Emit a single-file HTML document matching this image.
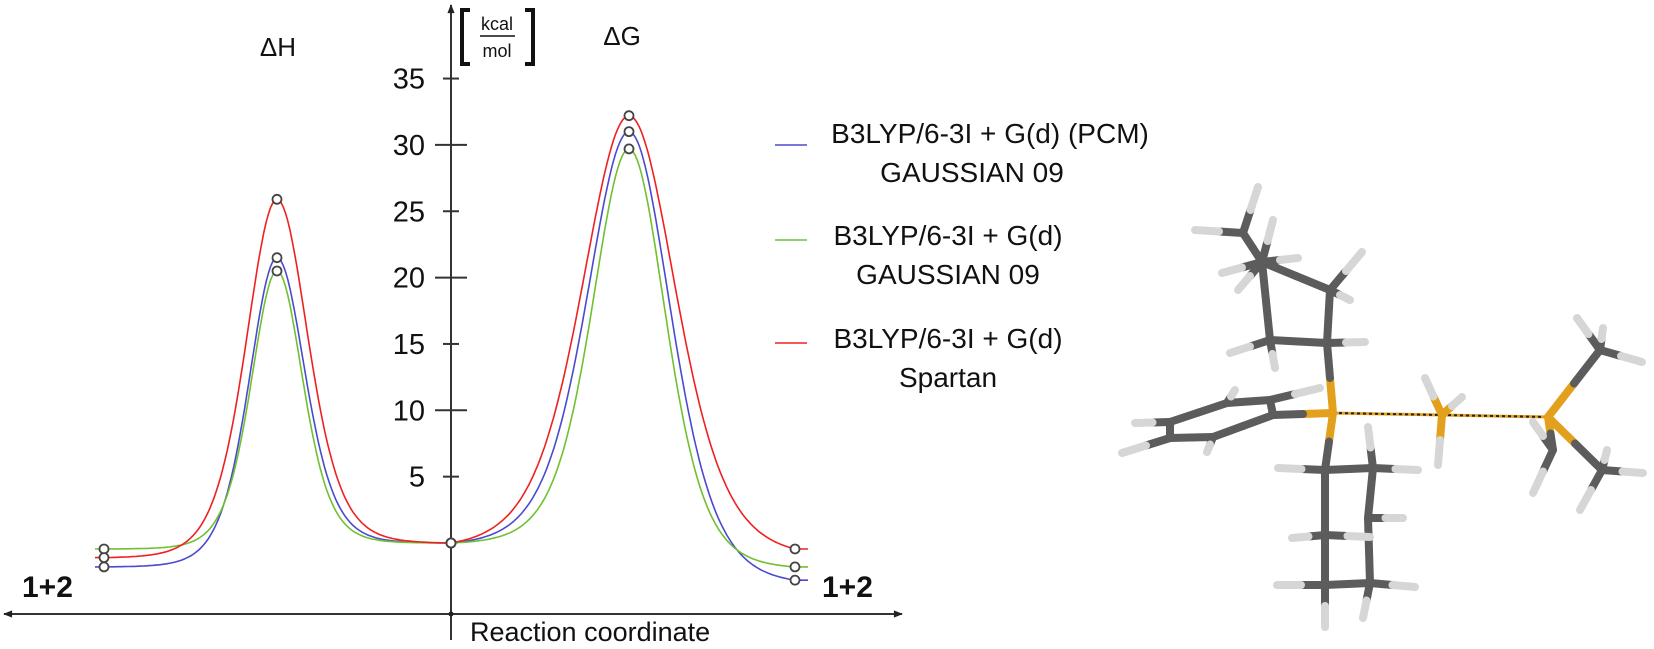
<!DOCTYPE html>
<html><head><meta charset="utf-8"><style>
html,body{margin:0;padding:0;background:#fff;}
svg{display:block;font-family:"Liberation Sans",Arial,sans-serif;}
</style></head><body>
<svg id="chart" width="1654" height="649" viewBox="0 0 1654 649" xmlns="http://www.w3.org/2000/svg">
<defs>
<marker id="arr" viewBox="0 0 10 10" refX="9" refY="5" markerWidth="14" markerHeight="9" orient="auto" markerUnits="userSpaceOnUse"><path d="M0,1 L10,5 L0,9 z" fill="#222"/></marker>
</defs>
<g id="axes">
<line x1="451" y1="614" x2="4" y2="614" stroke="#333" stroke-width="2" marker-end="url(#arr)"/>
<line x1="451" y1="614" x2="902" y2="614" stroke="#333" stroke-width="2" marker-end="url(#arr)"/>
<line x1="451" y1="640" x2="451" y2="5" stroke="#333" stroke-width="2" marker-end="url(#arr)"/>
<circle cx="451" cy="614" r="2.5" fill="#222"/>
<text x="470" y="641" font-size="27" fill="#111">Reaction coordinate</text>
<text x="22" y="597" font-size="30" font-weight="bold" fill="#111">1+2</text>
<text x="822" y="597" font-size="30" font-weight="bold" fill="#111">1+2</text>
<text x="278" y="56" font-size="26" text-anchor="middle" fill="#111">ΔH</text>
<text x="622" y="45" font-size="26" text-anchor="middle" fill="#111">ΔG</text>
<g>
<path d="M470,10 L462,10 L462,64 L470,64" fill="none" stroke="#111" stroke-width="4"/>
<path d="M525,10 L533,10 L533,64 L525,64" fill="none" stroke="#111" stroke-width="4"/>
<text x="497" y="30" font-size="18" text-anchor="middle" fill="#111">kcal</text>
<line x1="480" y1="36" x2="515" y2="36" stroke="#111" stroke-width="1.5"/>
<text x="497" y="57" font-size="18" text-anchor="middle" fill="#111">mol</text>
</g>
<g id="ticks"></g>
</g>
<g id="series"></g>
<g id="legend">
<line x1="775" y1="145" x2="807" y2="145" stroke="#4a4ad0" stroke-width="1.5"/>
<text font-size="28" fill="#111" text-anchor="middle"><tspan x="990" y="143">B3LYP/6-3I + G(d) (PCM)</tspan><tspan x="972" y="182">GAUSSIAN 09</tspan></text>
<line x1="775" y1="240" x2="807" y2="240" stroke="#70c030" stroke-width="1.5"/>
<text font-size="28" fill="#111" text-anchor="middle"><tspan x="948" y="245">B3LYP/6-3I + G(d)</tspan><tspan x="948" y="284">GAUSSIAN 09</tspan></text>
<line x1="775" y1="343" x2="807" y2="343" stroke="#f02020" stroke-width="1.5"/>
<text font-size="28" fill="#111" text-anchor="middle"><tspan x="948" y="348">B3LYP/6-3I + G(d)</tspan><tspan x="948" y="387">Spartan</tspan></text>
</g>
<g id="molecule"></g>
</svg>
<script>
// ---- chart data ----
const stages = [0, 1, 2, 3, 4]; // reactants, TS(ΔH), complex, TS(ΔG), reactants
const tickValues = [5, 10, 15, 20, 25, 30, 35];
const tickLabels = ["5", "10", "15", "20", "25", "30", "35"];
const seriesNames = ["pcm", "gaussian", "spartan"];
const pcmValues = [-1.8, 21.5, 0, 31.0, -2.8];
const gaussianValues = [-0.45, 20.5, 0, 29.7, -1.8];
const spartanValues = [-1.1, 25.9, 0, 32.2, -0.45];
const seriesColors = ["#4a4ad0", "#70c030", "#f02020"];
// peak widths (px) for ΔH and ΔG peaks per series
const widthH = [38, 35, 42];
const widthG = [57, 50, 64];

const NS = "http://www.w3.org/2000/svg";
const stagePx = [104, 277, 451, 629, 795];
function xScale(s){
  const i = Math.min(3, Math.max(0, Math.floor(s)));
  return stagePx[i] + (stagePx[i+1]-stagePx[i])*(s-i);
}
function yScale(v){ return 543 - v*13.27; }

const ticks = document.getElementById('ticks');
tickValues.forEach((v,i)=>{
  const major = v % 10 === 0;
  const l = document.createElementNS(NS,'line');
  
  
  l.setAttribute('x1', major?435:443); l.setAttribute('x2', major?467:459);
  l.setAttribute('y1', yScale(v)); l.setAttribute('y2', yScale(v));
  l.setAttribute('stroke','#333'); l.setAttribute('stroke-width','2');
  ticks.appendChild(l);
  const t = document.createElementNS(NS,'text');
  
  
  t.setAttribute('x', 425); t.setAttribute('y', yScale(v)+10);
  t.setAttribute('font-size','29'); t.setAttribute('text-anchor','end'); t.setAttribute('fill','#111');
  t.textContent = tickLabels[i];
  ticks.appendChild(t);
});

const seriesG = document.getElementById('series');
const allValues = [pcmValues, gaussianValues, spartanValues];
allValues.forEach((vals, si)=>{
  const pts = [];
  pts.push([xScale(0)-9, yScale(vals[0])]);
  for (let seg=0; seg<4; seg++){
    const a = seg, b = seg+1;
    const peakAtB = (b===1||b===3);
    const peakStage = peakAtB ? b : a;
    const w = peakStage===1 ? widthH[si] : widthG[si];
    const lo = peakAtB ? vals[a] : vals[b];
    const hi = peakAtB ? vals[b] : vals[a];
    const L = Math.abs(xScale(b)-xScale(a));
    const f = d => Math.pow(1+(d/w)*(d/w)/4, -4);
    const fL = f(L);
    for (let j=0;j<=80;j++){
      const t=j/80;
      const x = xScale(a+t);
      const d = Math.abs(x - xScale(peakStage));
      const gv = (f(d)-fL)/(1-fL);
      const v = lo + (hi-lo)*gv;
      pts.push([x, yScale(v)]);
    }
  }
  pts.push([xScale(4)+13, yScale(vals[4])]);
  const p = document.createElementNS(NS,'path');
  
  
  p.setAttribute('d', 'M'+pts.map(q=>q[0].toFixed(1)+','+q[1].toFixed(1)).join(' L'));
  p.setAttribute('fill','none'); p.setAttribute('stroke',seriesColors[si]); p.setAttribute('stroke-width','1.6');
  seriesG.appendChild(p);
});
allValues.forEach((vals, si)=>{
  stages.forEach((s,i)=>{
    const c = document.createElementNS(NS,'circle');
    
    
    c.setAttribute('cx', xScale(s)); c.setAttribute('cy', yScale(vals[i]));
    c.setAttribute('r','4.5'); c.setAttribute('fill','#fff'); c.setAttribute('stroke','#444'); c.setAttribute('stroke-width','1.8');
    seriesG.appendChild(c);
  });
});

// ---- molecule illustration ----
const atoms = {
 P1:[1333,413,'P'], P2:[1442,415,'P'], P3:[1548,417,'P'],
 Ca:[1327,343,'C'], Cb:[1270,340,'C'], Cc:[1262,262,'C'], Cd:[1330,290,'C'], Ce:[1243,233,'C'],
 Ha1:[1365,342,'H'], Hb1:[1230,353,'H'], Hb2:[1275,368,'H'], Hd1:[1362,252,'H'], Hd2:[1350,300,'H'],
 He1:[1258,187,'H'], He2:[1195,230,'H'], Hc1:[1273,220,'H'], Hc2:[1298,258,'H'], Hc3:[1238,290,'H'], Hc4:[1222,273,'H'],
 F1:[1273,415,'C'], F2:[1270,400,'C'], F3:[1227,403,'C'], F4:[1170,422,'C'], F5:[1170,438,'C'], F6:[1213,437,'C'],
 HF2:[1320,388,'H'], HF3:[1235,390,'H'], HF4:[1135,423,'H'], HF5:[1122,453,'H'], HF6:[1207,452,'H'],
 X1:[1325,470,'C'], X2:[1373,468,'C'], X3:[1325,535,'C'], X4:[1368,518,'C'], X5:[1325,585,'C'], X6:[1370,583,'C'],
 HX1:[1278,468,'H'], HX2a:[1418,470,'H'], HX2b:[1368,427,'H'], HX3:[1292,538,'H'], HX3b:[1370,537,'H'], HX4:[1403,518,'H'],
 HX5a:[1277,585,'H'], HX5b:[1325,627,'H'], HX6a:[1415,587,'H'], HX6b:[1363,618,'H'],
 HP2a:[1425,378,'H'], HP2b:[1462,397,'H'], HP2c:[1438,465,'H'],
 M1:[1600,350,'C'], HM1a:[1577,318,'H'], HM1b:[1603,328,'H'], HM1c:[1642,362,'H'],
 M2:[1553,450,'C'], HM2a:[1533,422,'H'], HM2b:[1533,493,'H'],
 M3:[1602,470,'C'], HM3a:[1607,450,'H'], HM3b:[1643,473,'H'], HM3c:[1580,510,'H']
};
const bonds = [
 ['P1','Ca'],['Ca','Cb'],['Cb','Cc'],['Cc','Cd'],['Cd','Ca'],['Cc','Ce'],
 ['Ca','Ha1'],['Cb','Hb1'],['Cb','Hb2'],['Cd','Hd1'],['Cd','Hd2'],['Ce','He1'],['Ce','He2'],
 ['Cc','Hc1'],['Cc','Hc2'],['Cc','Hc3'],['Cc','Hc4'],
 ['P1','F1'],['F1','F2'],['F2','F3'],['F3','F4'],['F4','F5'],['F5','F6'],['F6','F1'],
 ['F2','HF2'],['F3','HF3'],['F4','HF4'],['F5','HF5'],['F6','HF6'],
 ['P1','X1'],['X1','X2'],['X1','X3'],['X2','X4'],['X3','X5'],['X4','X6'],['X5','X6'],
 ['X1','HX1'],['X2','HX2a'],['X2','HX2b'],['X3','HX3'],['X3','HX3b'],['X4','HX4'],
 ['X5','HX5a'],['X5','HX5b'],['X6','HX6a'],['X6','HX6b'],
 ['P2','HP2a'],['P2','HP2b'],['P2','HP2c'],
 ['P3','M1'],['M1','HM1a'],['M1','HM1b'],['M1','HM1c'],
 ['P3','M2'],['M2','HM2a'],['M2','HM2b'],['P3','M3'],['M3','HM3a'],['M3','HM3b'],['M3','HM3c']
];
const col = {C:'#5c5c5c',H:'#d6d6d6',P:'#e3a01c'};
const mol = document.getElementById('molecule');
[['P1','P2'],['P2','P3']].forEach(b=>{
  const a=atoms[b[0]], c=atoms[b[1]];
  const l1=document.createElementNS(NS,'line');
  
  
  l1.setAttribute('x1',a[0]);l1.setAttribute('y1',a[1]);l1.setAttribute('x2',c[0]);l1.setAttribute('y2',c[1]);
  l1.setAttribute('stroke','#e3a01c');l1.setAttribute('stroke-width','3');
  mol.appendChild(l1);
  const l2=l1.cloneNode();
  l2.setAttribute('stroke','#222');l2.setAttribute('stroke-dasharray','3 3');l2.setAttribute('stroke-width','2');
  mol.appendChild(l2);
});
bonds.forEach(b=>{
  const a=atoms[b[0]], c=atoms[b[1]];
  const mx=(a[0]+c[0])/2, my=(a[1]+c[1])/2;
  [[a,mx,my],[c,mx,my]].forEach(h=>{
    const l=document.createElementNS(NS,'line');
    
    
    l.setAttribute('x1',h[0][0]);l.setAttribute('y1',h[0][1]);l.setAttribute('x2',h[1]);l.setAttribute('y2',h[2]);
    l.setAttribute('stroke',col[h[0][2]]);l.setAttribute('stroke-width','8');l.setAttribute('stroke-linecap','round');
    mol.appendChild(l);
  });
});
</script>
</body></html>
